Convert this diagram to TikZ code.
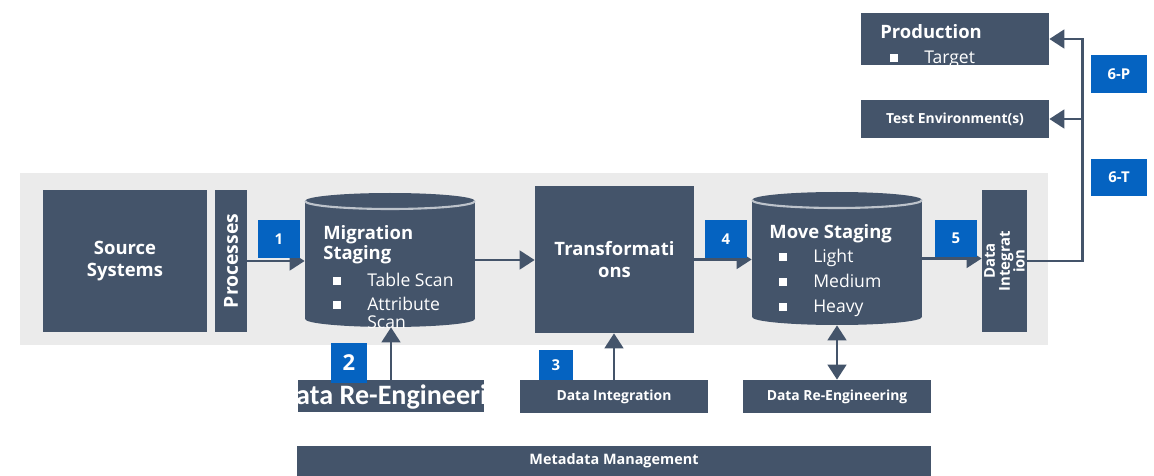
\documentclass[tikz,border=0pt]{standalone}
\usepackage{fontspec}
\setmainfont{Open Sans}
\newfontfamily\bigfont{Carlito}
\usetikzlibrary{arrows.meta,positioning,calc}
\definecolor{slate}{HTML}{44546A}
\definecolor{tagblue}{HTML}{0563C1}
\definecolor{panel}{HTML}{EBEBEB}
\newcommand \mycyl[4]
{
\pgfmathsetmacro\cylx{(#1+#2)/2}
\pgfmathsetmacro\cylr{(#2-#1)/2*0.02}
\fill[slate] (#1,#3+8) rectangle (#2,#4-8);
\fill[slate] (\cylx,#4-8) ellipse [x radius=\cylr cm, y radius=0.16cm];
\fill[slate] (\cylx,#3+8) ellipse [x radius=\cylr cm, y radius=0.16cm];
\draw[slate!35!white, line width=1.2pt] (#1,#3+8) arc [start angle=180, end angle=360, x radius=\cylr cm, y radius=0.16cm];
}
\newcommand \bul{\makebox[25pt][l]{\hspace{5.5pt}\rule[1pt]{4.5pt}{4.5pt}}}

\begin{document}
\begin{tikzpicture}[x=0.02cm, y=-0.02cm,
  darkbox/.style={fill=slate, inner sep=0, text=white, font=\bfseries\fontsize{10.5}{13}\selectfont, align=center},
  smallbox/.style={darkbox, minimum width=3.76cm, minimum height=0.66cm, font=\bfseries\fontsize{7.9}{9}\selectfont},
  numtag/.style={fill=tagblue, inner sep=0, text=white, font=\bfseries\fontsize{8.5}{10}\selectfont},
  listtext/.style={anchor=north west, inner sep=0, align=left, text=white, font=\fontsize{10}{13.5}\selectfont},
  headtext/.style={anchor=north west, inner sep=0, align=left, text=white, font=\bfseries\fontsize{10.5}{11.5}\selectfont},
  flowline/.style={draw=slate, line width=1.7pt, -{Triangle[length=8.5pt,width=10.5pt]}}]
\useasboundingbox (0,0) rectangle (1154,476);
\fill[panel] (20,173) rectangle (1048,345);

% main row
\node[darkbox, minimum width=3.28cm, minimum height=2.84cm] (src) at (125,261) {Source\\Systems};
\node[darkbox, minimum width=0.64cm, minimum height=2.84cm,
  label={[rotate=90, text=white, font=\bfseries\fontsize{11}{12}\selectfont]center:Processes}] (proc) at (231,261) {};
\mycyl{305}{475}{193}{327}
\node[minimum width=3.4cm, minimum height=2.68cm, inner sep=0] (mig) at (390,260) {};
\node[headtext] (migtitle) at (323,225) {Migration\\Staging};
\node[listtext] (miglist) at (323,273) {\bul Table Scan\\\bul Attribute\\[-3pt]\hspace*{25pt}Scan};
\node[darkbox, minimum width=3.18cm, minimum height=2.94cm] (trans) at (614.5,259.5) {Transformati\\ons};
\mycyl{752}{922}{192}{325}
\node[minimum width=3.4cm, minimum height=2.66cm, inner sep=0] (move) at (837,258.5) {};
\node[headtext] (movetitle) at (769,224) {Move Staging};
\node[listtext, font=\fontsize{10}{14.3}\selectfont] (movelist) at (769,249) {\bul Light\\\bul Medium\\\bul Heavy};
\node[darkbox, minimum width=0.9cm, minimum height=2.84cm,
  label={[rotate=90, text=white, align=center, font=\bfseries\fontsize{8.5}{8.5}\selectfont]center:Data\\Integrat\\ion}] (dintv) at (1004.5,261) {};

% targets
\node[darkbox, minimum width=3.76cm, minimum height=1.04cm] (prod) at (955,39) {};
\node[headtext] (prodtitle) at (880,24) {Production};
\node[listtext] (prodlist) at (880,51) {\bul Target};
\node[smallbox, minimum height=0.76cm] (test) at (955,119) {Test Environment(s)};
\coordinate (bus) at (1082,0);

% lower row
\node[darkbox, minimum width=3.72cm, minimum height=0.64cm] (reeng) at (391,396) {};
\begin{scope}
\clip (reeng.south west) rectangle (reeng.north east);
\node[text=white, font=\bigfont\bfseries\fontsize{16}{18}\selectfont] (reengtxt) at (397,397) {Data Re-Engineering};
\end{scope}
\node[smallbox] (dint) at (614,396.5) {Data Integration};
\node[smallbox] (dre) at (837,396.5) {Data Re-Engineering};
\node[darkbox, minimum width=12.68cm, minimum height=0.6cm, font=\bfseries\fontsize{8.2}{9}\selectfont] (meta) at (614,461) {Metadata Management};

% connectors
\draw[flowline] (proc.east) -- (proc.east -| mig.west);
\draw[flowline] (mig.east) -- (mig.east -| trans.west);
\draw[flowline] (trans.east) -- (trans.east -| move.west);
\draw[flowline] (move.east) -- (move.east -| dintv.west);
\draw[flowline] (dintv.east) -- (dintv.east -| bus) |- (prod.east);
\draw[flowline] (test.east -| bus) -- (test.east);
\draw[flowline] (reeng.north) -- (reeng.north |- mig.south);
\draw[flowline] (dint.north) -- (dint.north |- trans.south);
\draw[flowline, {Triangle[length=8.5pt,width=10.5pt]}-{Triangle[length=8.5pt,width=10.5pt]}] (dre.north) -- (move.south);

% step numbers
\node[numtag, minimum width=0.84cm, minimum height=0.76cm] (n1) at (279,239) {1};
\node[numtag, minimum width=0.72cm, minimum height=0.8cm, font=\bfseries\fontsize{12.5}{14}\selectfont] (n2) at (349,363) {2};
\node[numtag, minimum width=0.68cm, minimum height=0.6cm] (n3) at (556,365) {3};
\node[numtag, minimum width=0.84cm, minimum height=0.76cm] (n4) at (726,239) {4};
\node[numtag, minimum width=0.84cm, minimum height=0.76cm] (n5) at (956,238.5) {5};
\node[numtag, minimum width=1.12cm, minimum height=0.76cm] (n6p) at (1119,74) {6-P};
\node[numtag, minimum width=1.12cm, minimum height=0.76cm] (n6t) at (1119,177.5) {6-T};
\end{tikzpicture}
\end{document}
